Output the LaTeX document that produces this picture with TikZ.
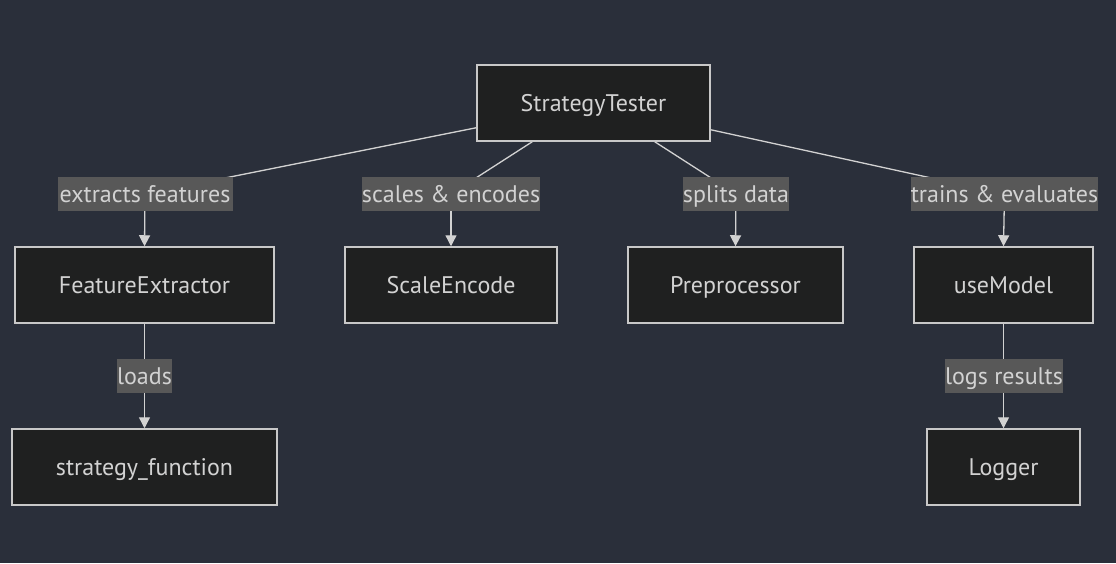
\documentclass[tikz,border=0pt]{standalone}
\usepackage{fontspec}
\setmainfont{PT Sans}
\usetikzlibrary{arrows.meta,calc}
\pgfdeclarelayer{bg}
\pgfdeclarelayer{edges}
\pgfsetlayers{bg,edges,main}
\definecolor{bgc}{RGB}{42,47,58}
\definecolor{nodefill}{RGB}{31,32,32}
\definecolor{nodeline}{RGB}{200,200,200}
\definecolor{txt}{RGB}{210,210,210}
\definecolor{lblfill}{RGB}{88,88,88}
\definecolor{edgec}{RGB}{210,210,210}
\begin{document}
\begin{tikzpicture}[x=1pt,y=-1pt,
  box/.style={draw=nodeline,line width=1.5pt,fill=nodefill,text=txt,
    font=\fontsize{24}{28}\selectfont,inner sep=0pt,anchor=center,
    text height=19pt,text depth=3pt},
  lbl/.style={fill=lblfill,text=txt,font=\fontsize{24}{28}\selectfont,
    inner sep=0pt,minimum height=34pt,anchor=center,
    text height=19pt,text depth=3pt},
  edge/.style={draw=edgec,line width=1.3pt},
  arr/.style={edge,-{Triangle[width=11pt,length=11pt]}}]
\begin{pgfonlayer}{bg}
\fill[bgc] (0,0) rectangle (1116,563);
\end{pgfonlayer}
\useasboundingbox (0,0) rectangle (1116,563);
% nodes
\node[box,minimum width=233pt,minimum height=76pt] (st) at (593.5,103) {StrategyTester};
\node[box,minimum width=259pt,minimum height=76pt] (fe) at (144.5,285) {FeatureExtractor};
\node[box,minimum width=212pt,minimum height=76pt] (se) at (451,285) {ScaleEncode};
\node[box,minimum width=215pt,minimum height=76pt] (pp) at (735.5,285) {Preprocessor};
\node[box,minimum width=179pt,minimum height=76pt] (um) at (1003.5,285) {useModel};
\node[box,minimum width=265pt,minimum height=76pt] (sf) at (144.5,467) {strategy\_function};
\node[box,minimum width=153pt,minimum height=76pt] (lg) at (1003.5,467) {Logger};
% labels
\node[lbl,minimum width=175pt] (l1) at (145,194) {extracts features};
\node[lbl,minimum width=174pt] (l2) at (451,194) {scales \& encodes};
\node[lbl,minimum width=106pt] (l3) at (736,194) {splits data};
\node[lbl,minimum width=185pt] (l4) at (1004.5,194) {trains \& evaluates};
\node[lbl,minimum width=53pt] (l5) at (144.5,376) {loads};
\node[lbl,minimum width=114pt] (l6) at (1004,376) {logs results};
% edges
\begin{pgfonlayer}{edges}
\draw[edge] ($(st.south west)+(0,-14)$) -- (l1.center);
\draw[arr] (l1.center) -- (fe.north);
\draw[edge] ($(st.south west)+(56,0)$) -- (l2.center);
\draw[arr] (l2.center) -- (se.north);
\draw[edge] ($(st.south east)+(-56,0)$) -- (l3.center);
\draw[arr] (l3.center) -- (pp.north);
\draw[edge] ($(st.south east)+(0,-12)$) -- (l4.center);
\draw[arr] (l4.center) -- (um.north);
\draw[arr] (fe.south) -- (sf.north);
\draw[arr] (um.south) -- (lg.north);
\end{pgfonlayer}
\end{tikzpicture}
\end{document}
